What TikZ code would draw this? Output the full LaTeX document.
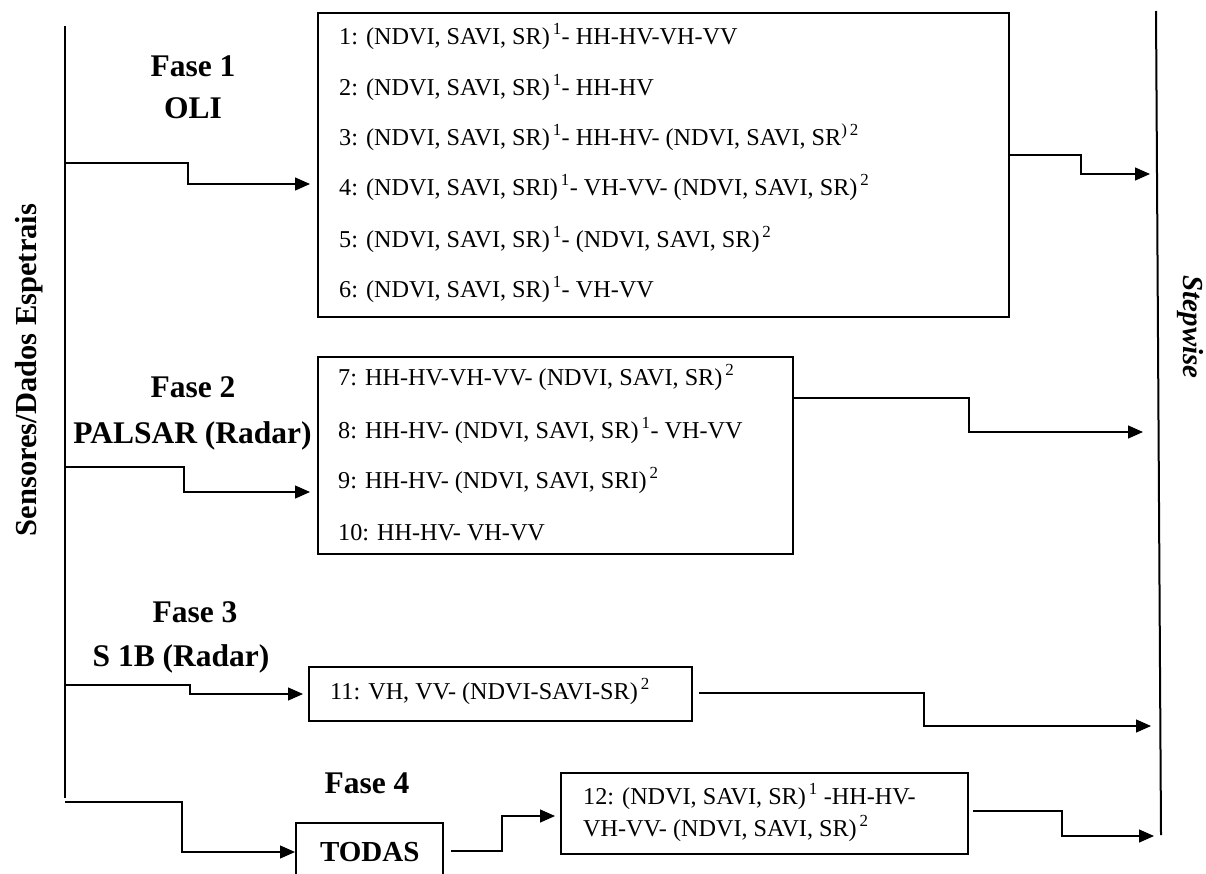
\documentclass[tikz,border=0pt]{standalone}
\usepackage{fontspec}
\setmainfont{Liberation Serif}
\usetikzlibrary{arrows.meta}
\newcommand\mysup[1]{\hspace{0.12em}\textsuperscript{#1}}
\tikzset{
  frame/.style={draw, line width=2.4pt, inner sep=0pt, anchor=north west},
  conn/.style={line width=1.3pt, -{Triangle[length=15pt,width=13pt]}},
  item/.style={anchor=base west, inner sep=0pt, font=\fontsize{24.2}{29}\selectfont},
  phase/.style={anchor=base, inner sep=0pt, font=\fontsize{31.5}{36}\selectfont\bfseries},
  vline/.style={line width=2pt},
}
\begin{document}
\begin{tikzpicture}[x=1pt,y=-1pt]
\useasboundingbox (0,0) rectangle (1206,873);

% vertical lines
\coordinate (Ltop) at (65,26);
\coordinate (Lbot) at (65,798);
\coordinate (Rtop) at (1156,11);
\coordinate (Rbot) at (1161,835);
\draw[vline] (Ltop) -- (Lbot);
\draw[vline] (Rtop) -- (Rbot);

\node[rotate=90, anchor=base, inner sep=0pt, font=\fontsize{30.5}{35}\selectfont\bfseries] (sens) at (36,370) {Sensores/Dados Espetrais};
\node[rotate=-90, anchor=base, inner sep=0pt, font=\fontsize{29}{34}\selectfont\bfseries\itshape] (step) at (1183,327) {Stepwise};

% phase labels
\node[phase] (f1) at (193,76) {Fase 1};
\node[phase] (f1b) at (193,118) {OLI};
\node[phase] (f2) at (193,397) {Fase 2};
\node[phase] (f2b) at (192.5,443) {PALSAR (Radar)};
\node[phase] (f3) at (195,622) {Fase 3};
\node[phase] (f3b) at (181,666) {S 1B (Radar)};
\node[phase] (f4) at (367,793) {Fase 4};

% boxes
\node[frame, minimum width=691pt, minimum height=304pt] (b1) at (317,12) {};
\node[frame, minimum width=475pt, minimum height=197pt] (b2) at (317,356) {};
\node[frame, minimum width=383pt, minimum height=54pt] (b3) at (308,666) {};
\node[frame, minimum width=407pt, minimum height=81pt] (b12) at (560,772) {};
\node[frame, minimum width=147pt, minimum height=57pt, font=\fontsize{29}{34}\selectfont\bfseries] (tod) at (295,822) {TODAS};

% box texts
\node[item] (l1) at (339,44) {1: (NDVI, SAVI, SR)\mysup{1}- HH-HV-VH-VV};
\node[item] (l2) at (339,95) {2: (NDVI, SAVI, SR)\mysup{1}- HH-HV};
\node[item] (l3) at (339,145) {3: (NDVI, SAVI, SR)\mysup{1}- HH-HV- (NDVI, SAVI, SR\textsuperscript{)\,2}};
\node[item] (l4) at (339,195) {4: (NDVI, SAVI, SRI)\mysup{1}- VH-VV- (NDVI, SAVI, SR)\mysup{2}};
\node[item] (l5) at (339,247) {5: (NDVI, SAVI, SR)\mysup{1}- (NDVI, SAVI, SR)\mysup{2}};
\node[item] (l6) at (339,297) {6: (NDVI, SAVI, SR)\mysup{1}- VH-VV};
\node[item] (l7) at (338,385) {7: HH-HV-VH-VV- (NDVI, SAVI, SR)\mysup{2}};
\node[item] (l8) at (338,438) {8: HH-HV- (NDVI, SAVI, SR)\mysup{1}- VH-VV};
\node[item] (l9) at (338,488) {9: HH-HV- (NDVI, SAVI, SRI)\mysup{2}};
\node[item] (l10) at (338,540) {10: HH-HV- VH-VV};
\node[item] (l11) at (330,699) {11: VH, VV- (NDVI-SAVI-SR)\mysup{2}};
\node[item] (l12a) at (583,804) {12: (NDVI, SAVI, SR)\mysup{1} -HH-HV-};
\node[item] (l12b) at (583,836) {VH-VV- (NDVI, SAVI, SR)\mysup{2}};

% left connectors
\coordinate (s1) at (65,163);
\coordinate (s2) at (65,467);
\coordinate (s3) at (65,685);
\coordinate (s4) at (65,802);
\draw[conn, shorten >=7pt] (s1) -- (188,163) -- (188,184) -- (b1.west |- 0,184);
\draw[conn, shorten >=7pt] (s2) -- (184,467) -- (184,492) -- (b2.west |- 0,492);
\draw[conn, shorten >=5pt] (s3) -- (190,685) -- (190,694) -- (b3.west |- 0,694);
\draw[conn] (s4) -- (182,802) -- (182,852) -- (tod.west |- 0,852);
\draw[conn, shorten <=7pt, shorten >=5pt] (tod.east |- 0,851) -- (502,851) -- (502,816) -- (b12.west |- 0,816);

% right connectors
\coordinate (r1) at (1150,174);
\coordinate (r2) at (1143,432);
\coordinate (r3) at (1151,726);
\coordinate (r4) at (1154,836);
\draw[conn] (b1.east |- 0,155) -- (1081,155) -- (1081,174) -- (r1);
\draw[conn] (b2.east |- 0,398) -- (969,398) -- (969,432) -- (r2);
\draw[conn, shorten <=6pt] (b3.east |- 0,693) -- (924,693) -- (924,726) -- (r3);
\draw[conn, shorten <=4pt] (b12.east |- 0,811) -- (1062,811) -- (1062,836) -- (r4);
\end{tikzpicture}
\end{document}
